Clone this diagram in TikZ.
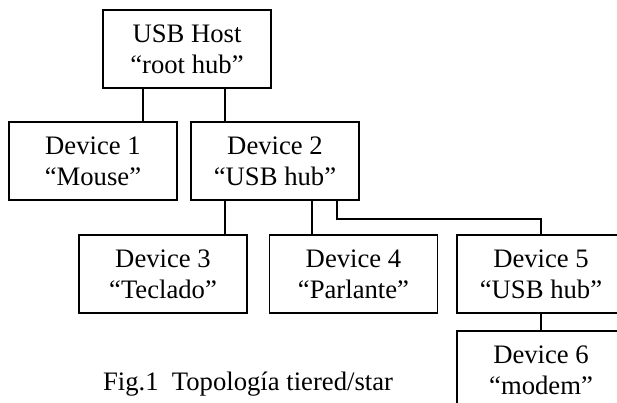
\documentclass[tikz,border=0pt]{standalone}
\usepackage{fontspec}
\setmainfont{Liberation Serif}
\usetikzlibrary{positioning}

\begin{document}
\begin{tikzpicture}[x=0.75pt, y=-0.75pt,
    devbox/.style={draw, line width=1.3pt, minimum width=126pt, minimum height=58.5pt,
                   align=center, inner sep=0pt, font=\fontsize{20}{23}\selectfont},
    link/.style={line width=1.3pt}]
                % Frame
                \useasboundingbox (0,0) rectangle (617,403);
                \clip (0,0) rectangle (617,403);
                \fill[white] (0,0) rectangle (617,403);

                % Boxes
                \node[devbox] (host) at (187,49) {USB Host\\“root hub”};
                \node[devbox] (dev1) at (93,161) {Device 1\\“Mouse”};
                \node[devbox] (dev2) at (275,161) {Device 2\\“USB hub”};
                \node[devbox] (dev3) at (163,274) {Device 3\\“Teclado”};
                \node[devbox] (dev4) at (353.5,274) {Device 4\\“Parlante”};
                \node[devbox] (dev5) at (541,274) {Device 5\\“USB hub”};
                \node[devbox] (dev6) at (541,370) {Device 6\\“modem”};

                % Links
                \draw[link] ([xshift=-33pt]host.south) -- ([xshift=-33pt]host.south |- dev1.north);
                \draw[link] ([xshift=28.5pt]host.south) -- ([xshift=28.5pt]host.south |- dev2.north);
                \draw[link] ([xshift=-37.5pt]dev2.south) -- ([xshift=-37.5pt]dev2.south |- dev3.north);
                \draw[link] ([xshift=27.75pt]dev2.south) -- ([xshift=27.75pt]dev2.south |- dev4.north);
                \draw[link] ([xshift=46.5pt]dev2.south) -- ++(0,18) -| (dev5.north);
                \draw[link] (dev5.south) -- (dev6.north);

                % Caption
                \node[font=\fontsize{20}{24}\selectfont, anchor=base] (cap) at (248,390)
                    {Fig.1\ \ Topología tiered/star};
            \end{tikzpicture}
\end{document}
